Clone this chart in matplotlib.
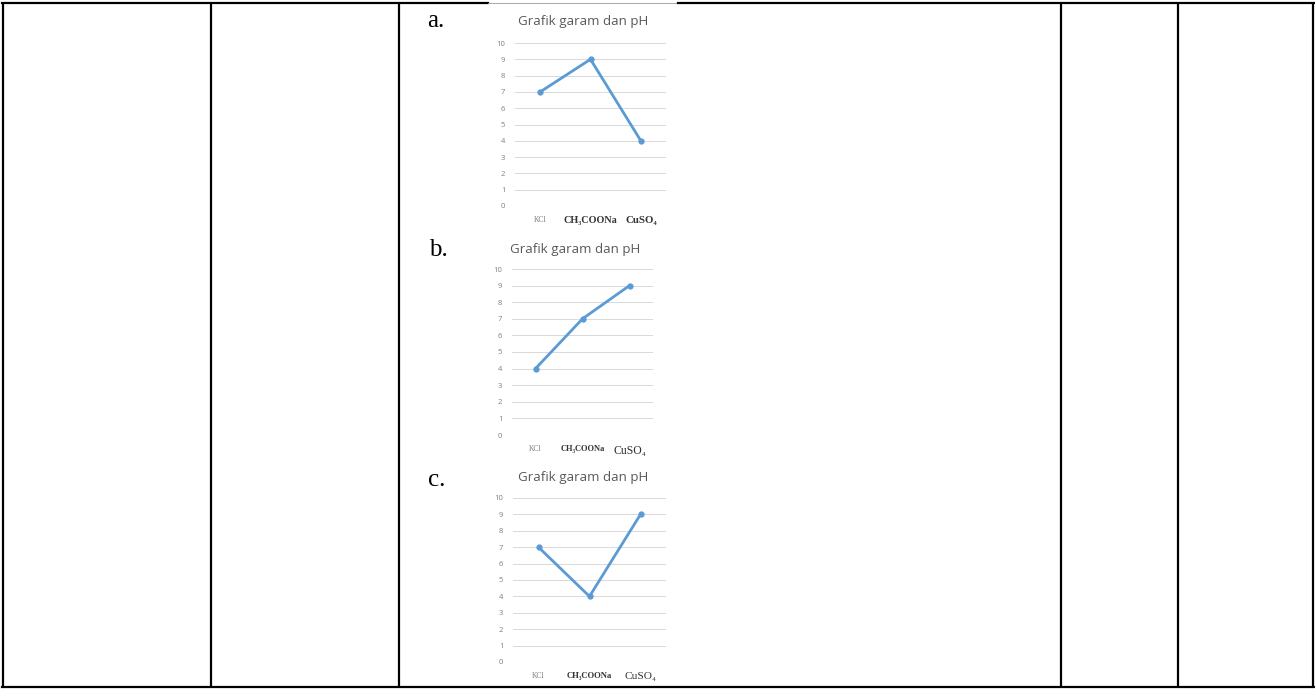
import matplotlib
matplotlib.use("Agg")
import matplotlib.pyplot as plt

# Salt / pH data for the three answer options
salts = ["KCl", "CH₃COONa", "CuSO₄"]
ph_a = [7, 9, 4]
ph_b = [4, 7, 9]
ph_c = [7, 4, 9]
option_labels = ["a.", "b.", "c."]
chart_title = "Grafik garam dan pH"
yticks = list(range(0, 11))

W, H = 1315, 689
fig = plt.figure(figsize=(W / 100, H / 100), dpi=100)
fig.patch.set_facecolor("white")

# overlay in pixel coordinates for the table borders
grid = fig.add_axes([0, 0, 1, 1], zorder=0)
grid.set_xlim(0, W)
grid.set_ylim(H, 0)
grid.axis("off")
for x in [3, 211, 399, 1061, 1178, 1313]:
    grid.plot([x, x], [2, 688], color="black", lw=1.6, solid_capstyle="butt")
grid.plot([2, 488], [3, 3], color="black", lw=1.6)
grid.plot([488, 678], [3, 3], color="#9a9a9a", lw=0.6)
grid.plot([678, 1314], [3, 3], color="black", lw=1.6)
grid.plot([2, 1314], [687, 687], color="black", lw=1.6)


def px_axes(left, right, top, bottom):
    # pixel box -> figure fraction axes
    return fig.add_axes([left / W, 1 - bottom / H, (right - left) / W, (bottom - top) / H], zorder=2)


def draw_chart(ax, values, label_styles):
    ax.plot(range(len(salts)), values, color="#5B9BD5", lw=2.0, marker="o", ms=3.5,
            solid_capstyle="round")
    ax.set_xlim(-0.5, 2.5)
    ax.set_ylim(0, 10)
    ax.set_yticks(yticks)
    ax.set_yticklabels([str(t) for t in yticks], fontsize=5.5, color="#7f7f7f",
                       family=["Open Sans", "DejaVu Sans"])
    ax.yaxis.grid(True, color="#d9d9d9", lw=0.7)
    ax.set_axisbelow(True)
    ax.tick_params(axis="y", length=0, pad=7)
    ax.tick_params(axis="x", length=0, pad=7)
    ax.set_xticks(range(len(salts)))
    ax.set_xticklabels(salts)
    for lbl, (fs, color, weight) in zip(ax.get_xticklabels(), label_styles):
        lbl.set_fontsize(fs)
        lbl.set_fontfamily(["Liberation Serif", "DejaVu Serif"])
        lbl.set_color(color)
        lbl.set_fontweight(weight)
    for s in ax.spines.values():
        s.set_visible(False)
    ax.set_facecolor("none")


charts = [
    (ph_a, (515, 666, 43, 206), (583, 21), (436, 21),
     [(5.5, "#7f7f7f", "normal"), (7.3, "#333333", "bold"), (7.8, "#333333", "bold")]),
    (ph_b, (512, 653, 269, 435), (575, 249), (438, 250),
     [(5.5, "#7f7f7f", "normal"), (6.0, "#333333", "bold"), (8.5, "#333333", "normal")]),
    (ph_c, (513, 666, 498, 662), (583, 477), (437, 480),
     [(5.5, "#7f7f7f", "normal"), (6.2, "#333333", "bold"), (8.2, "#333333", "normal")]),
]

for (vals, box, tpos, lpos, styles), opt in zip(charts, option_labels):
    ax = px_axes(*box)
    draw_chart(ax, vals, styles)
    grid.text(tpos[0], tpos[1], chart_title, ha="center", va="center", fontsize=9.6,
              color="#595959", family=["Open Sans", "DejaVu Sans"], zorder=3)
    grid.text(lpos[0], lpos[1], opt, ha="center", va="center", fontsize=18,
              color="black", family=["Liberation Serif", "DejaVu Serif"], zorder=3)

fig.savefig("out.png", dpi=100, facecolor="white")
